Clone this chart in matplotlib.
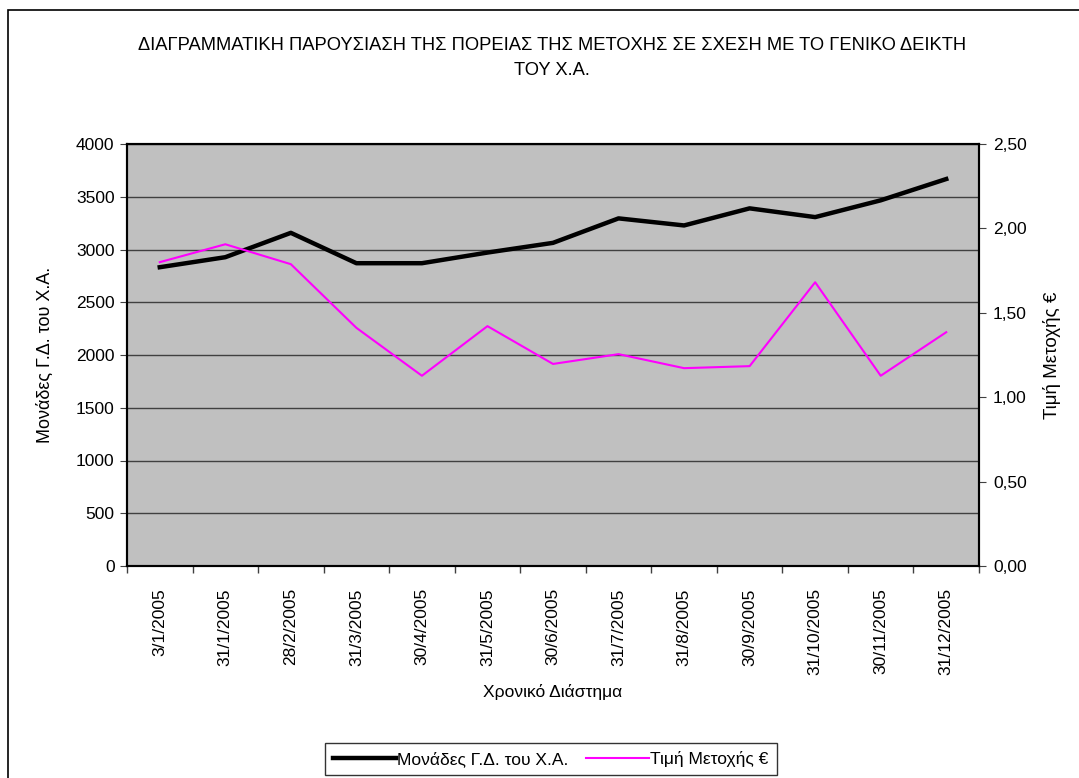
import matplotlib
matplotlib.use("Agg")
import matplotlib.pyplot as plt
from matplotlib.patches import Rectangle
from matplotlib.ticker import FixedLocator, FuncFormatter
from matplotlib.lines import Line2D

plt.rcParams['font.family'] = ['Liberation Sans', 'DejaVu Sans']

dates = ["3/1/2005", "31/1/2005", "28/2/2005", "31/3/2005", "30/4/2005",
         "31/5/2005", "30/6/2005", "31/7/2005", "31/8/2005", "30/9/2005",
         "31/10/2005", "30/11/2005", "31/12/2005"]
index_points = [2832, 2927, 3158, 2870, 2870, 2971, 3063, 3295, 3228, 3390,
                3307, 3466, 3668]
share_price = [1.80, 1.906, 1.788, 1.411, 1.127, 1.421, 1.197, 1.255, 1.172,
               1.184, 1.681, 1.127, 1.385]

left_ticks = [0, 500, 1000, 1500, 2000, 2500, 3000, 3500, 4000]
right_ticks = [0.0, 0.5, 1.0, 1.5, 2.0, 2.5]

title = "ΔΙΑΓΡΑΜΜΑΤΙΚΗ ΠΑΡΟΥΣΙΑΣΗ ΤΗΣ ΠΟΡΕΙΑΣ ΤΗΣ ΜΕΤΟΧΗΣ ΣΕ ΣΧΕΣΗ ΜΕ ΤΟ ΓΕΝΙΚΟ ΔΕΙΚΤΗ\nΤΟΥ Χ.Α."
label_index = "Μονάδες Γ.Δ. του Χ.Α."
label_price = "Τιμή Μετοχής €"
xlabel = "Χρονικό Διάστημα"

FS = 12.5
W, H = 1079, 778
fig = plt.figure(figsize=(W / 100, H / 100), dpi=100)
fig.patch.set_facecolor("white")

# outer chart border
fig.patches.append(Rectangle((7.5 / W, -0.05), 1.2, (H - 10) / H + 0.05,
                             transform=fig.transFigure, fill=False,
                             edgecolor="black", linewidth=1.2))

x0, x1, ytop, ybot = 127, 979, 144, 566
ax = fig.add_axes([x0 / W, 1 - ybot / H, (x1 - x0) / W, (ybot - ytop) / H])
ax.set_facecolor("#C0C0C0")
n = len(dates)
xs = list(range(n))
ax.set_xlim(-0.5, n - 0.5)
ax.set_ylim(0, 4000)
ax.yaxis.set_major_locator(FixedLocator(left_ticks))
ax.grid(axis="y", color="#404040", linewidth=1.0)
ax.set_axisbelow(True)

ax.set_xticks(xs)
ax.set_xticklabels(dates, rotation=90, fontsize=FS)
ax.tick_params(axis="x", which="major", length=0, pad=16)
ax.set_xticks([i - 0.5 for i in range(n + 1)], minor=True)
ax.tick_params(axis="x", which="minor", length=5, width=1, color="#404040", direction="out")
ax.tick_params(axis="y", labelsize=FS, length=5, color="#404040", direction="out", pad=4)

for s in ax.spines.values():
    s.set_color("black")
    s.set_linewidth(1.5)

ax2 = ax.twinx()
ax2.set_ylim(0, 2.5)
ax2.yaxis.set_major_locator(FixedLocator(right_ticks))
ax2.yaxis.set_major_formatter(FuncFormatter(lambda v, p: f"{v:.2f}".replace(".", ",")))
ax2.tick_params(axis="y", labelsize=FS, length=5, color="#404040", direction="out", pad=5)
for s in ax2.spines.values():
    s.set_color("black")
    s.set_linewidth(1.5)

ax.plot(xs, index_points, color="black", linewidth=3.2, solid_joinstyle="round", zorder=3)
ax2.plot(xs, share_price, color="#FF00FF", linewidth=1.5, zorder=3)

ax.set_ylabel(label_index, fontsize=13)
ax.yaxis.set_label_coords(-0.0962, 0.5)
ax2.set_ylabel(label_price, fontsize=13.5)
ax2.yaxis.set_label_coords(1.0857, 0.5)
ax.set_xlabel(xlabel, fontsize=12.5)
ax.xaxis.set_label_coords(0.5, -0.2986)
ax.xaxis.label.set_va("center")
ax.yaxis.label.set_va("center")
ax2.yaxis.label.set_va("center")

fig.text(552 / W, 1 - 58 / H, title, ha="center", va="center", fontsize=13.2,
         linespacing=1.6)

handles = [Line2D([], [], color="black", linewidth=3.2),
           Line2D([], [], color="#FF00FF", linewidth=1.5)]
leg = fig.legend(handles, [label_index, label_price], loc="center",
                 bbox_to_anchor=(551 / W, 1 - 759 / H), ncol=2, frameon=True,
                 fancybox=False, edgecolor="black", fontsize=12.5,
                 handlelength=3.6, handletextpad=0.1, columnspacing=1.0,
                 borderpad=0.45)
leg.get_frame().set_linewidth(1.0)

fig.savefig("out.png", dpi=100)
